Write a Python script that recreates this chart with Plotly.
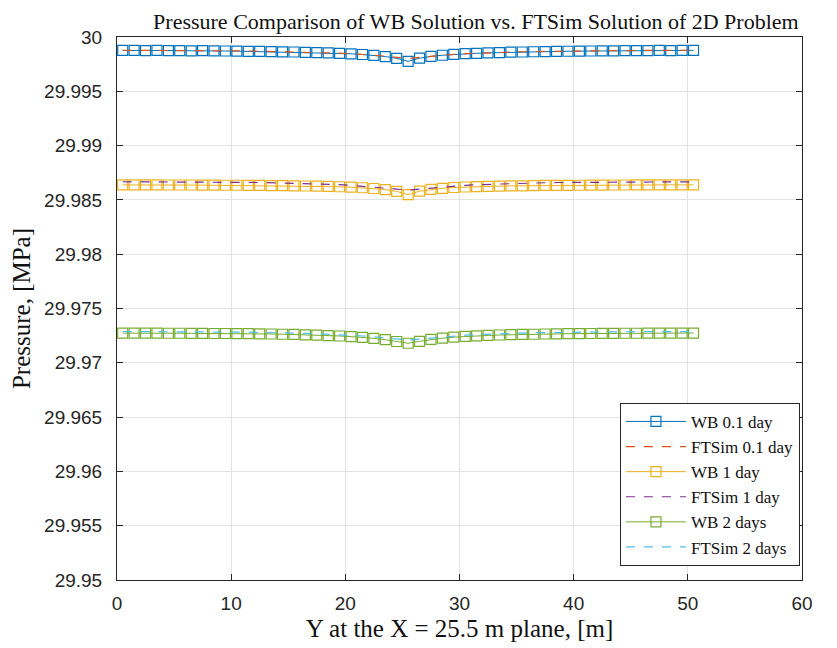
import plotly.graph_objects as go

y_pos = [0.5, 1.5, 2.5, 3.5, 4.5, 5.5, 6.5, 7.5, 8.5, 9.5, 10.5, 11.5, 12.5, 13.5, 14.5,
         15.5, 16.5, 17.5, 18.5, 19.5, 20.5, 21.5, 22.5, 23.5, 24.5, 25.5, 26.5, 27.5,
         28.5, 29.5, 30.5, 31.5, 32.5, 33.5, 34.5, 35.5, 36.5, 37.5, 38.5, 39.5, 40.5,
         41.5, 42.5, 43.5, 44.5, 45.5, 46.5, 47.5, 48.5, 49.5, 50.5]

wb_01 = [29.99876, 29.99877, 29.99875, 29.99876, 29.99874, 29.99875, 29.99873, 29.99874, 29.99872,
         29.99871, 29.99870, 29.99868, 29.99868, 29.99866, 29.99863, 29.99862, 29.99859, 29.99857,
         29.99853, 29.99850, 29.99845, 29.99839, 29.99831, 29.99820, 29.99803,
         29.99776,
         29.99805, 29.99822, 29.99832, 29.99840, 29.99846, 29.99850, 29.99854, 29.99857, 29.99860,
         29.99862, 29.99864, 29.99866, 29.99868, 29.99869, 29.99870, 29.99871, 29.99872, 29.99873,
         29.99874, 29.99874, 29.99875, 29.99876, 29.99875, 29.99876, 29.99877]

ft_01 = [29.99878, 29.99878, 29.99877, 29.99877, 29.99876, 29.99876, 29.99875, 29.99875, 29.99874,
         29.99873, 29.99872, 29.99871, 29.99869, 29.99868, 29.99866, 29.99864, 29.99861, 29.99858,
         29.99855, 29.99851, 29.99846, 29.99840, 29.99833, 29.99824, 29.99813,
         29.99800,
         29.99813, 29.99824, 29.99833, 29.99840, 29.99846, 29.99851, 29.99855, 29.99858, 29.99861,
         29.99864, 29.99866, 29.99868, 29.99869, 29.99871, 29.99872, 29.99873, 29.99874, 29.99875,
         29.99875, 29.99876, 29.99876, 29.99877, 29.99877, 29.99878, 29.99878]

wb_1 = [29.98638, 29.98639, 29.98638, 29.98638, 29.98637, 29.98637, 29.98637, 29.98636, 29.98636,
        29.98635, 29.98635, 29.98634, 29.98633, 29.98632, 29.98631, 29.98629, 29.98628, 29.98626,
        29.98624, 29.98621, 29.98617, 29.98612, 29.98605, 29.98595, 29.98578,
        29.98548,
        29.98580, 29.98597, 29.98607, 29.98614, 29.98619, 29.98622, 29.98625, 29.98627, 29.98629,
        29.98630, 29.98632, 29.98633, 29.98634, 29.98634, 29.98635, 29.98636, 29.98636, 29.98637,
        29.98637, 29.98638, 29.98638, 29.98638, 29.98639, 29.98638, 29.98639]

ft_1 = [29.98667, 29.98667, 29.98667, 29.98666, 29.98666, 29.98666, 29.98665, 29.98665, 29.98664,
        29.98663, 29.98662, 29.98661, 29.98660, 29.98658, 29.98656, 29.98654, 29.98651, 29.98648,
        29.98644, 29.98640, 29.98634, 29.98627, 29.98619, 29.98609, 29.98600,
        29.98590,
        29.98600, 29.98609, 29.98619, 29.98627, 29.98634, 29.98640, 29.98644, 29.98648, 29.98651,
        29.98654, 29.98656, 29.98658, 29.98660, 29.98661, 29.98662, 29.98663, 29.98664, 29.98665,
        29.98665, 29.98666, 29.98666, 29.98666, 29.98667, 29.98667, 29.98667]

wb_2 = [29.97273, 29.97274, 29.97273, 29.97273, 29.97272, 29.97272, 29.97271, 29.97271, 29.97270,
        29.97270, 29.97269, 29.97268, 29.97267, 29.97265, 29.97263, 29.97261, 29.97258, 29.97255,
        29.97251, 29.97247, 29.97241, 29.97234, 29.97225, 29.97213, 29.97196,
        29.97180,
        29.97198, 29.97215, 29.97227, 29.97236, 29.97243, 29.97248, 29.97252, 29.97256, 29.97259,
        29.97261, 29.97263, 29.97265, 29.97267, 29.97268, 29.97269, 29.97270, 29.97271, 29.97271,
        29.97272, 29.97272, 29.97273, 29.97273, 29.97274, 29.97273, 29.97274]

ft_2 = [29.97288, 29.97288, 29.97287, 29.97287, 29.97287, 29.97286, 29.97286, 29.97285, 29.97285,
        29.97284, 29.97283, 29.97282, 29.97280, 29.97279, 29.97277, 29.97274, 29.97271, 29.97268,
        29.97264, 29.97259, 29.97254, 29.97247, 29.97239, 29.97229, 29.97219,
        29.97210,
        29.97219, 29.97229, 29.97239, 29.97247, 29.97254, 29.97259, 29.97264, 29.97268, 29.97271,
        29.97274, 29.97277, 29.97279, 29.97280, 29.97282, 29.97283, 29.97284, 29.97285, 29.97285,
        29.97286, 29.97286, 29.97287, 29.97287, 29.97287, 29.97288, 29.97288]

series_names = ["WB 0.1 day", "FTSim 0.1 day", "WB 1 day", "FTSim 1 day", "WB 2 days", "FTSim 2 days"]
y_tick_vals = [29.95, 29.955, 29.96, 29.965, 29.97, 29.975, 29.98, 29.985, 29.99, 29.995, 30.0]
y_tick_text = ["29.95", "29.955", "29.96", "29.965", "29.97", "29.975", "29.98", "29.985", "29.99", "29.995", "30"]
x_tick_vals = [0, 10, 20, 30, 40, 50, 60]

colors = ["#0072BD", "#D95319", "#EDB120", "#7E2F8E", "#77AC30", "#4DBEEE"]
data = [wb_01, ft_01, wb_1, ft_1, wb_2, ft_2]

fig = go.Figure()
for k, (name, vals) in enumerate(zip(series_names, data)):
    if k % 2 == 0:
        fig.add_trace(go.Scatter(
            x=y_pos, y=vals, name=name, mode="lines+markers",
            line=dict(color=colors[k], width=1),
            marker=dict(symbol="square-open", size=10, color=colors[k], line=dict(width=1.2, color=colors[k])),
        ))
    else:
        fig.add_trace(go.Scatter(
            x=y_pos, y=vals, name=name, mode="lines",
            line=dict(color=colors[k], width=1.2, dash="dash"),
        ))

serif = "Liberation Serif, Times New Roman, serif"
sans = "Liberation Sans, Arial, sans-serif"

fig.update_layout(
    width=837, height=648,
    paper_bgcolor="white", plot_bgcolor="white",
    margin=dict(l=109, r=43, t=29, b=76),
    title=dict(text="Pressure Comparison of WB Solution vs. FTSim Solution of 2D Problem",
               x=0.559, xanchor="center", y=0.991, yanchor="top", yref="container",
               pad=dict(t=0, b=0),
               font=dict(family=serif, size=22, color="#111111")),
    showlegend=True,
    legend=dict(x=0.997, y=0.026, xanchor="right", yanchor="bottom",
                bgcolor="white", bordercolor="#262626", borderwidth=1,
                font=dict(family=serif, size=17, color="#111111"),
                tracegroupgap=0, itemwidth=60),
    font=dict(family=sans, color="#262626"),
)
fig.update_xaxes(
    range=[0, 60], tickvals=x_tick_vals, ticks="inside", ticklen=6, tickcolor="#262626",
    showline=True, linecolor="#262626", linewidth=1, mirror="allticks",
    showgrid=True, gridcolor="#e3e3e3", zeroline=False,
    tickfont=dict(family=sans, size=19, color="#262626"), ticklabelstandoff=6,
    title=dict(text="Y at the X = 25.5 m plane, [m]", font=dict(family=serif, size=25, color="#111111"), standoff=6),
)
fig.update_yaxes(
    range=[29.95, 30.0], tickvals=y_tick_vals, ticktext=y_tick_text, ticks="inside", ticklen=6,
    tickcolor="#262626",
    showline=True, linecolor="#262626", linewidth=1, mirror="allticks",
    showgrid=True, gridcolor="#e3e3e3", zeroline=False,
    tickfont=dict(family=sans, size=19, color="#262626"), ticklabelstandoff=10,
    title=dict(text="Pressure, [MPa]", font=dict(family=serif, size=25, color="#111111"), standoff=6),
)

fig.write_html("out.html")
